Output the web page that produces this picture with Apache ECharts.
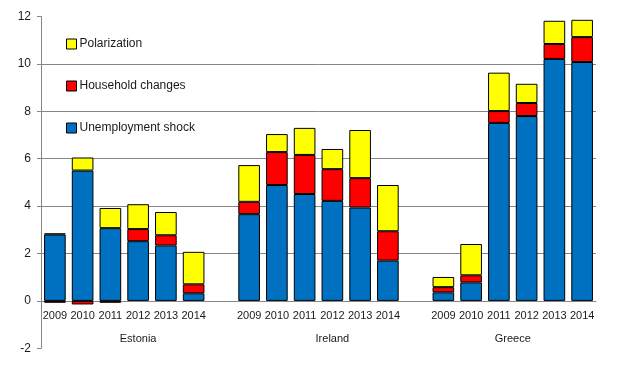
<!DOCTYPE html>
<html>
<head>
<meta charset="utf-8">
<script src="https://cdn.jsdelivr.net/npm/echarts@6/dist/echarts.min.js"></script>
<style>
html,body{margin:0;padding:0;background:#fff;}
#chart{width:632px;height:365px;}
</style>
</head>
<body>
<div id="chart"></div>
<script>
var countries = ['Estonia', 'Ireland', 'Greece'];
var years = ['2009', '2010', '2011', '2012', '2013', '2014'];
var seriesNames = ['Unemployment shock', 'Household changes', 'Polarization'];
// values per country, per year (2009..2014)
var unemploymentShock = [
  [2.80, 5.50, 3.07, 2.52, 2.34, 0.32],
  [3.66, 4.89, 4.51, 4.22, 3.94, 1.70],
  [0.36, 0.78, 7.51, 7.80, 10.21, 10.08]
];
var householdChanges = [
  [-0.08, -0.15, -0.08, 0.51, 0.43, 0.38],
  [0.52, 1.39, 1.65, 1.34, 1.24, 1.24],
  [0.22, 0.30, 0.50, 0.55, 0.63, 1.05]
];
var polarization = [
  [0.05, 0.55, 0.85, 1.05, 0.98, 1.37],
  [1.55, 0.76, 1.14, 0.85, 2.03, 1.95],
  [0.43, 1.32, 1.62, 0.81, 0.98, 0.73]
];
var yTicks = [-2, 0, 2, 4, 6, 8, 10, 12];

// build category list with a blank slot after Estonia and Ireland
var categories = [];
function flatten(arr) {
  var out = [];
  arr.forEach(function (row, ci) {
    row.forEach(function (v) { out.push(v); });
    if (ci < arr.length - 1) out.push('-');
  });
  return out;
}
countries.forEach(function (c, ci) {
  years.forEach(function (y) { categories.push(y); });
  if (ci < countries.length - 1) categories.push('');
});
// country label positions (group centres incl. trailing blank slot)
var countryPos = [3.5, 10.5, 17];

var gridTop = 16.5, gridBottom = 16.7, H = 365;
var yMin = yTicks[0], yMax = yTicks[yTicks.length - 1];
var plotH = H - gridTop - gridBottom;
// shift x axes up so that they sit at value 0
var zeroOffset = -plotH * (0 - yMin) / (yMax - yMin);

var colors = ['#0070C0', '#FF0000', '#FFFF00'];
var dataSets = [unemploymentShock, householdChanges, polarization];
var series = dataSets.map(function (d, i) {
  return {
    name: seriesNames[i],
    type: 'bar',
    stack: 'total',
    xAxisIndex: 0,
    barCategoryGap: '22%',
    data: flatten(d),
    itemStyle: { color: colors[i], borderColor: '#000', borderWidth: 1 },
    emphasis: { disabled: true }
  };
});

var chart = echarts.init(document.getElementById('chart'), null, { renderer: 'canvas' });
chart.setOption({
  animation: false,
  backgroundColor: '#fff',
  textStyle: { fontFamily: 'Liberation Sans' },
  grid: { left: 41, right: 36, top: gridTop, bottom: gridBottom, containLabel: false, outerBoundsMode: 'none' },
  legend: {
    orient: 'vertical',
    left: 66,
    top: 38,
    padding: 0,
    itemWidth: 10,
    itemHeight: 10,
    itemGap: 30,
    data: ['Polarization', 'Household changes', 'Unemployment shock'],
    icon: 'rect',
    itemStyle: { borderColor: '#000', borderWidth: 1 },
    textStyle: { fontSize: 12, color: '#1a1a1a', fontFamily: 'Liberation Sans', padding: [0, 0, 0, -2] }
  },
  xAxis: [
    {
      type: 'category',
      data: categories,
      position: 'bottom',
      offset: zeroOffset,
      axisLine: { onZero: false, lineStyle: { color: '#868686', width: 1 } },
      axisTick: { show: false },
      axisLabel: { interval: 0, fontSize: 11, color: '#1a1a1a', margin: 10 },
      splitLine: { show: false }
    },
    {
      type: 'value',
      min: 0,
      max: categories.length,
      position: 'bottom',
      offset: zeroOffset,
      axisLine: { show: false, onZero: false },
      axisTick: { show: false },
      splitLine: { show: false },
      axisLabel: {
        customValues: countryPos,
        fontSize: 11,
        color: '#1a1a1a',
        margin: 33,
        formatter: function (v) {
          var idx = countryPos.indexOf(v);
          return idx >= 0 ? countries[idx] : '';
        }
      }
    }
  ],
  yAxis: {
    type: 'value',
    min: yMin,
    max: yMax,
    interval: 2,
    axisLine: { show: true, onZero: false, lineStyle: { color: '#868686', width: 1 } },
    axisTick: { show: true, inside: false, length: 4, lineStyle: { color: '#868686' } },
    axisLabel: { fontSize: 12, color: '#1a1a1a', margin: 10 },
    splitLine: { show: true, showMinLine: false, showMaxLine: false, lineStyle: { color: '#868686', width: 1 } }
  },
  series: series
});
</script>
</body>
</html>
